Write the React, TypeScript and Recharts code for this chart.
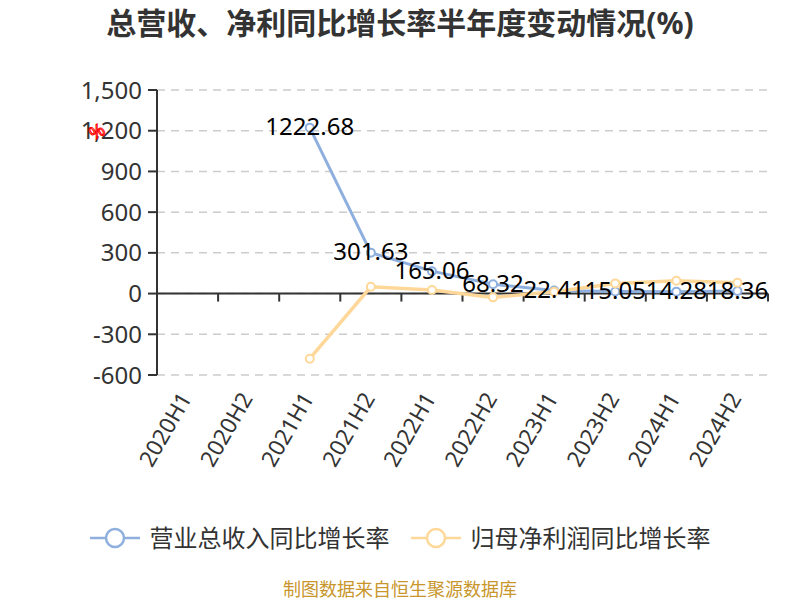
import React from 'react';
import { LineChart, Line, XAxis, YAxis, CartesianGrid, ReferenceLine, LabelList } from 'recharts';

const categories = ['2020H1', '2020H2', '2021H1', '2021H2', '2022H1', '2022H2', '2023H1', '2023H2', '2024H1', '2024H2'];
const revenueGrowth: (number | null)[] = [null, null, 1222.68, 301.63, 165.06, 68.32, 22.41, 15.05, 14.28, 18.36];
const profitGrowth: (number | null)[] = [null, null, -480, 50, 26, -28, 13, 75, 95, 80];
const yTicks = [-600, -300, 0, 300, 600, 900, 1200, 1500];
const seriesNames = ['营业总收入同比增长率', '归母净利润同比增长率'];
const seriesColors = ['#8fb0de', '#ffd899'];
const titleText = '总营收、净利同比增长率半年度变动情况(%)';
const footerText = '制图数据来自恒生聚源数据库';

const data = categories.map((c, i) => ({ cat: c, rev: revenueGrowth[i], profit: profitGrowth[i] }));

const FONT = '"Noto Sans", "Noto Sans CJK SC", sans-serif';
const AXIS = '#333';

const ZeroAxis = (props: any) => {
  const x1 = Number(props.x1);
  const x2 = Number(props.x2);
  const y1 = Number(props.y1);
  const n = categories.length;
  const step = (x2 - x1) / n;
  const marks = [];
  for (let k = 0; k <= n; k++) {
    const x = x1 + k * step;
    marks.push(<line key={k} x1={x} x2={x} y1={y1} y2={y1 + 8} stroke={AXIS} strokeWidth={2} />);
  }
  return (
    <g>
      <line x1={x1} x2={x2} y1={y1} y2={y1} stroke={AXIS} strokeWidth={2} />
      {marks}
    </g>
  );
};

const XTick = (props: any) => {
  const { x, y, payload } = props;
  return (
    <g transform={`translate(${x - 2.5},${y + 19})`}>
      <text textAnchor="end" dominantBaseline="central" transform="rotate(-60)" fontSize={22.5} fill="#333" fontFamily={FONT}>
        {payload.value}
      </text>
    </g>
  );
};

const renderLabel = (props: any) => {
  const x = props.x ?? props.viewBox?.x;
  const y = props.y ?? props.viewBox?.y;
  if (props.value == null || x == null || y == null) return null;
  return (
    <text x={x} y={y} dy={-2} textAnchor="middle" dominantBaseline="central" fontSize={24} fill="#000" fontFamily={FONT}>
      {props.value}
    </text>
  );
};

const LegendIcon = ({ color }: { color: string }) => (
  <svg width={50} height={24} style={{ display: 'block' }}>
    <line x1={0} x2={50} y1={12} y2={12} stroke={color} strokeWidth={2.5} />
    <circle cx={25} cy={12} r={9} fill="#fff" stroke={color} strokeWidth={2.5} />
  </svg>
);

export default function App() {
  return (
    <div style={{ position: 'absolute', left: 0, top: 0, width: 800, height: 600, background: '#fff', fontFamily: FONT, overflow: 'hidden' }}>
      <div style={{ position: 'absolute', left: 0, top: 0, width: 800, textAlign: 'center', fontSize: 30, fontWeight: 'bold', color: '#333', lineHeight: '46px' }}>
        {titleText}
      </div>
      <div style={{ position: 'absolute', left: 0, top: 0 }}>
        <LineChart width={800} height={600} data={data} margin={{ top: 90, right: 32, bottom: 125, left: 0 }}>
          <CartesianGrid vertical={false} stroke="#ccc" strokeWidth={1.5} strokeDasharray="8 6" />
          <XAxis
            dataKey="cat"
            scale="band"
            axisLine={false}
            tickLine={false}
            tickSize={0}
            tickMargin={0}
            interval={0}
            height={100}
            tick={<XTick />}
          />
          <YAxis
            width={157}
            domain={[-600, 1500]}
            ticks={yTicks}
            interval={0}
            tickSize={9}
            tickMargin={6}
            axisLine={{ stroke: AXIS, strokeWidth: 2 }}
            tickLine={{ stroke: AXIS, strokeWidth: 2 }}
            tick={{ fontSize: 24, fill: '#333', fontFamily: FONT }}
            tickFormatter={(v: number) => v.toLocaleString('en-US')}
          />
          <ReferenceLine y={0} shape={ZeroAxis} />
          <Line
            dataKey="rev"
            name={seriesNames[0]}
            stroke={seriesColors[0]}
            strokeWidth={3}
            dot={{ r: 4, fill: '#fff', stroke: seriesColors[0], strokeWidth: 2 }}
            activeDot={false}
            isAnimationActive={false}
          />
          <Line
            dataKey="profit"
            name={seriesNames[1]}
            stroke={seriesColors[1]}
            strokeWidth={3.5}
            dot={{ r: 4, fill: '#fff', stroke: seriesColors[1], strokeWidth: 2 }}
            activeDot={false}
            isAnimationActive={false}
          />
          <Line dataKey="rev" stroke="none" dot={false} activeDot={false} legendType="none" isAnimationActive={false}>
            <LabelList dataKey="rev" content={renderLabel} />
          </Line>
        </LineChart>
      </div>
      <svg style={{ position: 'absolute', left: 76, top: 110, overflow: 'visible' }} width={40} height={40}>
        <text x={20} y={21} textAnchor="middle" dominantBaseline="central" fontSize={18} fill="none" stroke="red" strokeWidth={1} transform="rotate(-30 20 20)" fontFamily={FONT}>%</text>
      </svg>
      <div style={{ position: 'absolute', left: 0, top: 522, width: 800, height: 32, display: 'flex', justifyContent: 'center', alignItems: 'center' }}>
        {seriesNames.map((name, i) => (
          <div key={name} style={{ display: 'flex', alignItems: 'center', marginLeft: i === 0 ? 0 : 21 }}>
            <LegendIcon color={seriesColors[i]} />
            <span style={{ marginLeft: 10, fontSize: 24, color: '#333', lineHeight: '32px' }}>{name}</span>
          </div>
        ))}
      </div>
      <div style={{ position: 'absolute', left: 0, top: 577, width: 800, textAlign: 'center', fontSize: 18, color: '#c8962c', lineHeight: '24px' }}>
        {footerText}
      </div>
    </div>
  );
}
